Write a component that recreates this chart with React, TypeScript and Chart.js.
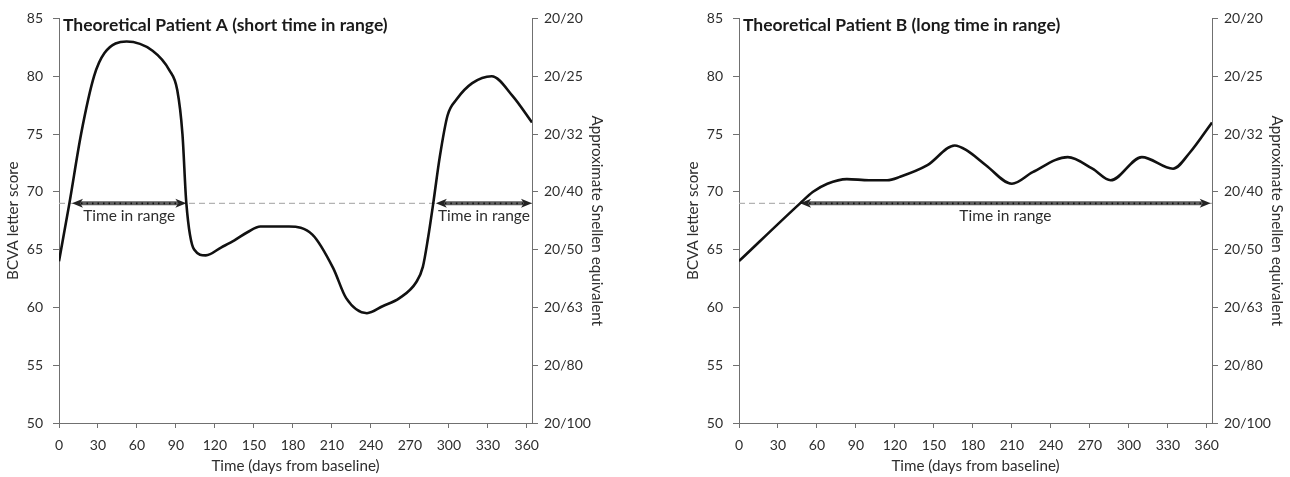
import React, { useEffect, useRef } from "react";
import { Chart, registerables } from "chart.js";

Chart.register(...registerables);

// ---------- data ----------
const xTicks = [0, 30, 60, 90, 120, 150, 180, 210, 240, 270, 300, 330, 360];
const yTicks = [50, 55, 60, 65, 70, 75, 80, 85];
const snellenLabels = ["20/100", "20/80", "20/63", "20/50", "20/40", "20/32", "20/25", "20/20"];
const threshold = 69;

const daysA = [0, 8, 17, 27, 35, 52, 72, 85, 91, 95, 98, 104, 113, 125, 135, 145, 155, 177, 195, 211, 221, 237, 249, 262, 275, 280, 284, 288, 293, 299, 306, 318, 333, 349, 364];
const bcvaA = [64, 69, 75, 80, 82, 83, 82.2, 80.5, 78.8, 75, 69, 65, 64.5, 65.2, 65.8, 66.5, 67, 67, 66.3, 63.4, 60.8, 59.5, 60.1, 60.8, 62.2, 63.5, 66, 69, 73, 76.6, 78, 79.4, 80, 78.3, 76];

const daysB = [0, 47, 57, 68, 83, 100, 114, 124, 145, 166, 175, 190, 210, 226, 253, 272, 286, 310, 334, 347, 364];
const bcvaB = [64, 69, 70, 70.7, 71.1, 71, 71, 71.3, 72.3, 74, 73.6, 72.3, 70.7, 71.7, 73, 72, 71, 73, 72, 73.4, 76];

const rangesA = [[10, 98], [290, 364]];
const rangesB = [[47, 363]];

const titleA = "Theoretical Patient A (short time in range)";
const titleB = "Theoretical Patient B (long time in range)";
const rangeLabel = "Time in range";
const xTitle = "Time (days from baseline)";
const yTitle = "BCVA letter score";
const y2Title = "Approximate Snellen equivalent";

// ---------- style ----------
const FAMILY = "Lato, 'Liberation Sans', sans-serif";
const TEXT = "#2e2e2e";
const AXIS = "#707070";
const W = 610;
const H = 477;

const annotPlugin = {
  id: "annot",
  beforeDatasetsDraw(chart: any, _args: any, opts: any) {
    const { ctx, chartArea, scales } = chart;
    const x = scales.x;
    const y = scales.y;
    const yy = y.getPixelForValue(threshold);
    ctx.save();
    // dashed threshold line
    ctx.strokeStyle = "#b3b3b3";
    ctx.lineWidth = 1.2;
    ctx.setLineDash([6, 4]);
    ctx.beginPath();
    ctx.moveTo(chartArea.left, yy);
    ctx.lineTo(chartArea.right, yy);
    ctx.stroke();
    ctx.setLineDash([]);
    for (const r of opts.ranges as number[][]) {
      const x1 = x.getPixelForValue(r[0]);
      const x2 = x.getPixelForValue(r[1]);
      const head = 9;
      // shaft
      ctx.strokeStyle = "#5e5e5e";
      ctx.lineWidth = 4;
      ctx.beginPath();
      ctx.moveTo(x1 + head - 1, yy);
      ctx.lineTo(x2 - head + 1, yy);
      ctx.stroke();
      ctx.strokeStyle = "#111111";
      ctx.lineWidth = 1.6;
      ctx.setLineDash([1.5, 4]);
      ctx.beginPath();
      ctx.moveTo(x1 + head, yy);
      ctx.lineTo(x2 - head, yy);
      ctx.stroke();
      ctx.setLineDash([]);
      // heads
      ctx.fillStyle = "#222222";
      ctx.beginPath();
      ctx.moveTo(x1, yy);
      ctx.lineTo(x1 + head + 2, yy - 4.5);
      ctx.lineTo(x1 + head - 1, yy);
      ctx.lineTo(x1 + head + 2, yy + 4.5);
      ctx.closePath();
      ctx.fill();
      ctx.beginPath();
      ctx.moveTo(x2, yy);
      ctx.lineTo(x2 - head - 2, yy - 4.5);
      ctx.lineTo(x2 - head + 1, yy);
      ctx.lineTo(x2 - head - 2, yy + 4.5);
      ctx.closePath();
      ctx.fill();
      // label
      ctx.fillStyle = TEXT;
      ctx.font = `15.5px ${FAMILY}`;
      ctx.textAlign = "center";
      ctx.textBaseline = "middle";
      ctx.fillText(rangeLabel, (x1 + x2) / 2, yy + 13);
    }
    ctx.restore();
  },
  afterDraw(chart: any, _args: any, opts: any) {
    const { ctx, chartArea } = chart;
    ctx.save();
    ctx.fillStyle = "#1a1a1a";
    ctx.font = `bold 17.5px ${FAMILY}`;
    ctx.textAlign = "left";
    ctx.textBaseline = "middle";
    ctx.fillText(opts.title, chartArea.left + 4, chartArea.top + 7);
    ctx.restore();
  },
};

function PatientChart({ days, values, ranges, title }: { days: number[]; values: number[]; ranges: number[][]; title: string }) {
  const ref = useRef<HTMLCanvasElement | null>(null);
  useEffect(() => {
    if (!ref.current) return;
    const font = { family: FAMILY, size: 14 };
    const titleFont = { family: FAMILY, size: 15.2 };
    const chart = new Chart(ref.current, {
      type: "line",
      data: {
        datasets: [
          {
            data: days.map((d, i) => ({ x: d, y: values[i] })),
            borderColor: "#111111",
            borderWidth: 2.6,
            pointRadius: 0,
            cubicInterpolationMode: "monotone",
            fill: false,
          } as any,
        ],
      },
      plugins: [annotPlugin as any],
      options: {
        animation: false,
        responsive: false,
        maintainAspectRatio: false,
        layout: { padding: { top: 15, left: 0, right: 0, bottom: 0 } },
        plugins: {
          legend: { display: false },
          tooltip: { enabled: false },
          annot: { ranges, title },
        } as any,
        scales: {
          x: {
            type: "linear",
            min: 0,
            max: 364,
            position: "bottom",
            afterBuildTicks: (s: any) => {
              s.ticks = xTicks.map((v) => ({ value: v }));
            },
            afterFit: (s: any) => {
              s.height = 54;
            },
            grid: { display: true, drawOnChartArea: false, drawTicks: true, tickLength: 5, color: AXIS },
            border: { display: true, color: AXIS, width: 1 },
            ticks: { padding: 9, color: TEXT, font, maxRotation: 0, autoSkip: false },
            title: { display: true, text: xTitle, color: TEXT, font: titleFont, padding: { top: 0, bottom: 2 } },
          },
          y: {
            type: "linear",
            position: "left",
            min: 50,
            max: 85,
            afterBuildTicks: (s: any) => {
              s.ticks = yTicks.map((v) => ({ value: v }));
            },
            afterFit: (s: any) => {
              s.width = 59;
            },
            grid: { display: true, drawOnChartArea: false, drawTicks: true, tickLength: 6, color: AXIS },
            border: { display: true, color: AXIS, width: 1 },
            ticks: { padding: 10, color: TEXT, font },
            title: { display: true, text: yTitle, color: TEXT, font: titleFont, padding: { top: 4, bottom: 0 } },
          },
          y2: {
            type: "linear",
            position: "right",
            min: 50,
            max: 85,
            afterBuildTicks: (s: any) => {
              s.ticks = yTicks.map((v) => ({ value: v }));
            },
            afterFit: (s: any) => {
              s.width = W - 532;
            },
            grid: { display: true, drawOnChartArea: false, drawTicks: true, tickLength: 6, color: AXIS },
            border: { display: true, color: AXIS, width: 1 },
            ticks: {
              padding: 6,
              color: TEXT,
              font,
              callback: (_v: any, i: number) => snellenLabels[i],
            },
            title: { display: true, text: y2Title, color: TEXT, font: titleFont, padding: { top: 4, bottom: 0 } },
          },
        },
      } as any,
    });
    return () => chart.destroy();
  }, [days, values, ranges, title]);
  return <canvas ref={ref} width={W} height={H} style={{ width: W, height: H, display: "block" }} />;
}

export default function App() {
  return (
    <div style={{ position: "fixed", left: 0, top: 0, width: 1290, height: 477, background: "#ffffff" }}>
      <div style={{ position: "absolute", left: 0, top: 0 }}>
        <PatientChart days={daysA} values={bcvaA} ranges={rangesA} title={titleA} />
      </div>
      <div style={{ position: "absolute", left: 680, top: 0 }}>
        <PatientChart days={daysB} values={bcvaB} ranges={rangesB} title={titleB} />
      </div>
    </div>
  );
}
